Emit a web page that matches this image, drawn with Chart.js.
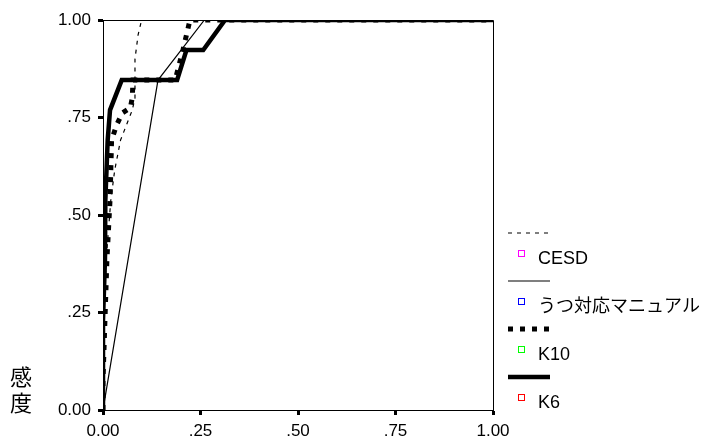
<!DOCTYPE html>
<html>
<head>
<meta charset="utf-8">
<script src="https://cdn.jsdelivr.net/npm/chart.js@4/dist/chart.umd.min.js"></script>
<style>
  html, body { margin: 0; padding: 0; background: #fff; }
  #wrap { width: 709px; height: 441px; }
</style>
</head>
<body>
<div id="wrap"><canvas id="roc" width="709" height="441"></canvas></div>
<script>
// ROC curves: 1 - specificity (x) against sensitivity (y)
const seriesNames = ['CESD', 'うつ対応マニュアル', 'K10', 'K6'];
const markerColors = ['#ff00ff', '#0000ff', '#00ff00', '#ff0000'];

const cesdFpr = [0, 0, 0.008, 0.02, 0.03, 0.045, 0.075, 0.082, 0.082, 0.082, 0.09, 0.099, 1];
const cesdTpr = [0, 0.154, 0.385, 0.538, 0.615, 0.692, 0.769, 0.8, 0.846, 0.9, 0.962, 1, 1];

const manualFpr = [0, 0.141, 0.26, 1];
const manualTpr = [0, 0.846, 1, 1];

const k10Fpr = [0, 0, 0.005, 0.01, 0.018, 0.022, 0.035, 0.05, 0.07, 0.075, 0.077, 0.185, 0.205, 0.223, 1];
const k10Tpr = [0, 0.077, 0.231, 0.385, 0.538, 0.692, 0.731, 0.762, 0.775, 0.8, 0.846, 0.846, 0.923, 1, 1];

const k6Fpr = [0, 0, 0.005, 0.006, 0.012, 0.018, 0.048, 0.19, 0.214, 0.257, 0.313, 1];
const k6Tpr = [0, 0.231, 0.385, 0.538, 0.692, 0.769, 0.846, 0.846, 0.923, 0.923, 1, 1];

const tickValues = [0, 0.25, 0.5, 0.75, 1];
const tickLabels = ['0.00', '.25', '.50', '.75', '1.00'];
const yTitle = ['感', '度'];

const latinFont = '"Liberation Sans", Arial, "Noto Sans CJK JP", sans-serif';

function pts(xs, ys) { return xs.map((x, i) => ({ x: x, y: ys[i] })); }

const lineStyles = [
  { width: 1.2, dash: [4, 5] },
  { width: 1.2, dash: [] },
  { width: 5, dash: [5, 7] },
  { width: 4.5, dash: [] }
];

const seriesData = [pts(cesdFpr, cesdTpr), pts(manualFpr, manualTpr), pts(k10Fpr, k10Tpr), pts(k6Fpr, k6Tpr)];

const datasets = seriesNames.map((name, i) => ({
  label: name,
  data: seriesData[i],
  showLine: true,
  borderColor: '#000',
  backgroundColor: '#000',
  borderWidth: lineStyles[i].width,
  borderDash: lineStyles[i].dash,
  borderCapStyle: 'butt',
  borderJoinStyle: 'miter',
  pointRadius: 0,
  pointHoverRadius: 0,
  tension: 0
}));

// frame around the plot, stacked axis title and the line/marker key
const decorations = {
  id: 'decorations',
  afterDraw(chart) {
    const ctx = chart.ctx;
    const a = chart.chartArea;
    ctx.save();
    ctx.strokeStyle = '#000';
    ctx.lineWidth = 1;
    ctx.setLineDash([]);
    ctx.beginPath();
    ctx.moveTo(a.left, a.top + 0.5);
    ctx.lineTo(a.right + 0.5, a.top + 0.5);
    ctx.lineTo(a.right + 0.5, a.bottom);
    ctx.stroke();

    ctx.fillStyle = '#000';
    ctx.font = '22px "Noto Sans CJK JP", sans-serif';
    ctx.textAlign = 'center';
    ctx.textBaseline = 'middle';
    yTitle.forEach((ch, i) => ctx.fillText(ch, 21, 377 + i * 26));

    const keyTop = 233;
    const step = 48;
    seriesNames.forEach((name, i) => {
      const ly = keyTop + i * step;
      ctx.strokeStyle = '#000';
      ctx.lineWidth = lineStyles[i].width;
      ctx.setLineDash(lineStyles[i].dash);
      ctx.beginPath();
      ctx.moveTo(508, ly);
      ctx.lineTo(550, ly);
      ctx.stroke();

      ctx.setLineDash([]);
      ctx.lineWidth = 1;
      ctx.strokeStyle = markerColors[i];
      ctx.strokeRect(518.5, ly + 17.5, 6, 6);

      ctx.fillStyle = '#000';
      ctx.font = '18px ' + latinFont;
      ctx.textAlign = 'left';
      ctx.textBaseline = 'middle';
      ctx.fillText(name, 538, ly + 26);
    });
    ctx.restore();
  }
};

function axisTicks(axis) {
  axis.ticks = tickValues.map(v => ({ value: v }));
}

new Chart(document.getElementById('roc'), {
  type: 'scatter',
  data: { datasets: datasets },
  options: {
    responsive: false,
    animation: false,
    layout: { padding: { left: 0, right: 216, top: 20, bottom: 0 } },
    plugins: { legend: { display: false }, tooltip: { enabled: false } },
    scales: {
      x: {
        type: 'linear',
        min: 0, max: 1,
        afterBuildTicks: axisTicks,
        afterFit(scale) { scale.height = 31; },
        ticks: {
          color: '#000',
          font: { family: latinFont, size: 17 },
          padding: 6,
          maxRotation: 0,
          callback: (v) => tickLabels[tickValues.indexOf(v)]
        },
        grid: { drawOnChartArea: false, drawTicks: true, tickLength: 5, tickWidth: 3, tickColor: '#000' },
        border: { display: true, color: '#000', width: 1 }
      },
      y: {
        type: 'linear',
        min: 0, max: 1,
        afterBuildTicks: axisTicks,
        afterFit(scale) { scale.width = 103; },
        ticks: {
          color: '#000',
          font: { family: latinFont, size: 17 },
          padding: 7,
          callback: (v) => tickLabels[tickValues.indexOf(v)]
        },
        grid: { drawOnChartArea: false, drawTicks: true, tickLength: 5, tickWidth: 3, tickColor: '#000' },
        border: { display: true, color: '#000', width: 1 }
      }
    }
  },
  plugins: [decorations]
});
</script>
</body>
</html>
